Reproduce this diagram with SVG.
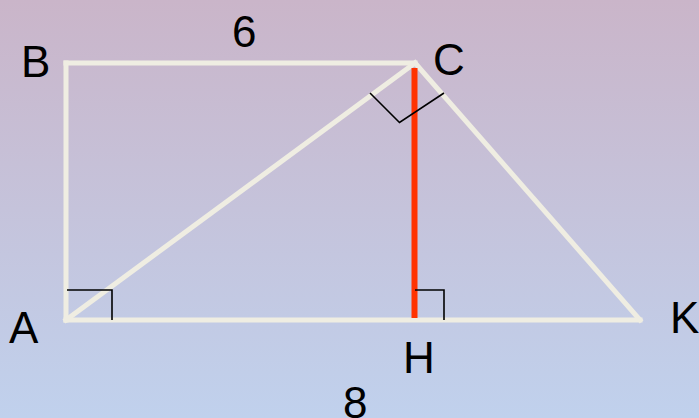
<svg xmlns="http://www.w3.org/2000/svg" width="699" height="418" viewBox="0 0 699 418">
<defs>
<linearGradient id="bg" x1="0" y1="0" x2="0" y2="1">
<stop offset="0" stop-color="#cab5c9"/>
<stop offset="1" stop-color="#c0d1ed"/>
</linearGradient>
<style>
.edge{stroke:#efede2;stroke-width:5;fill:none;stroke-linecap:square}
.mark{stroke:#000;stroke-width:1.6;fill:none}
.lbl{font-family:"Liberation Sans",Arial,sans-serif;font-size:44px;fill:#000}
</style>
</defs>
<rect width="699" height="418" fill="url(#bg)"/>
<g id="connectors">
<line class="edge" x1="66" y1="63" x2="415" y2="63"/>
<line class="edge" x1="66" y1="63" x2="66" y2="320"/>
<line class="edge" x1="66" y1="320" x2="640" y2="320"/>
<line class="edge" x1="66" y1="320" x2="415" y2="63"/>
<line class="edge" x1="415" y1="63" x2="640" y2="320"/>
<line x1="414.5" y1="68" x2="414.5" y2="318" stroke="#ff3300" stroke-width="6"/>
<polyline class="mark" points="67,290 112,290 112,320" stroke-width="2.2"/>
<polyline class="mark" points="415,290 444,290 444,320"/>
<polyline class="mark" points="370,93 399.5,122.5 444,93"/>
</g>
<g id="B"><text class="lbl" x="21" y="77">B</text></g>
<g id="C"><text class="lbl" x="433" y="75">C</text></g>
<g id="A"><text class="lbl" x="9" y="343">A</text></g>
<g id="H"><text class="lbl" x="403" y="373">H</text></g>
<g id="K"><text class="lbl" x="670" y="333">K</text></g>
<g id="six"><text class="lbl" x="232" y="47">6</text></g>
<g id="eight"><text class="lbl" x="343" y="418">8</text></g>
</svg>
